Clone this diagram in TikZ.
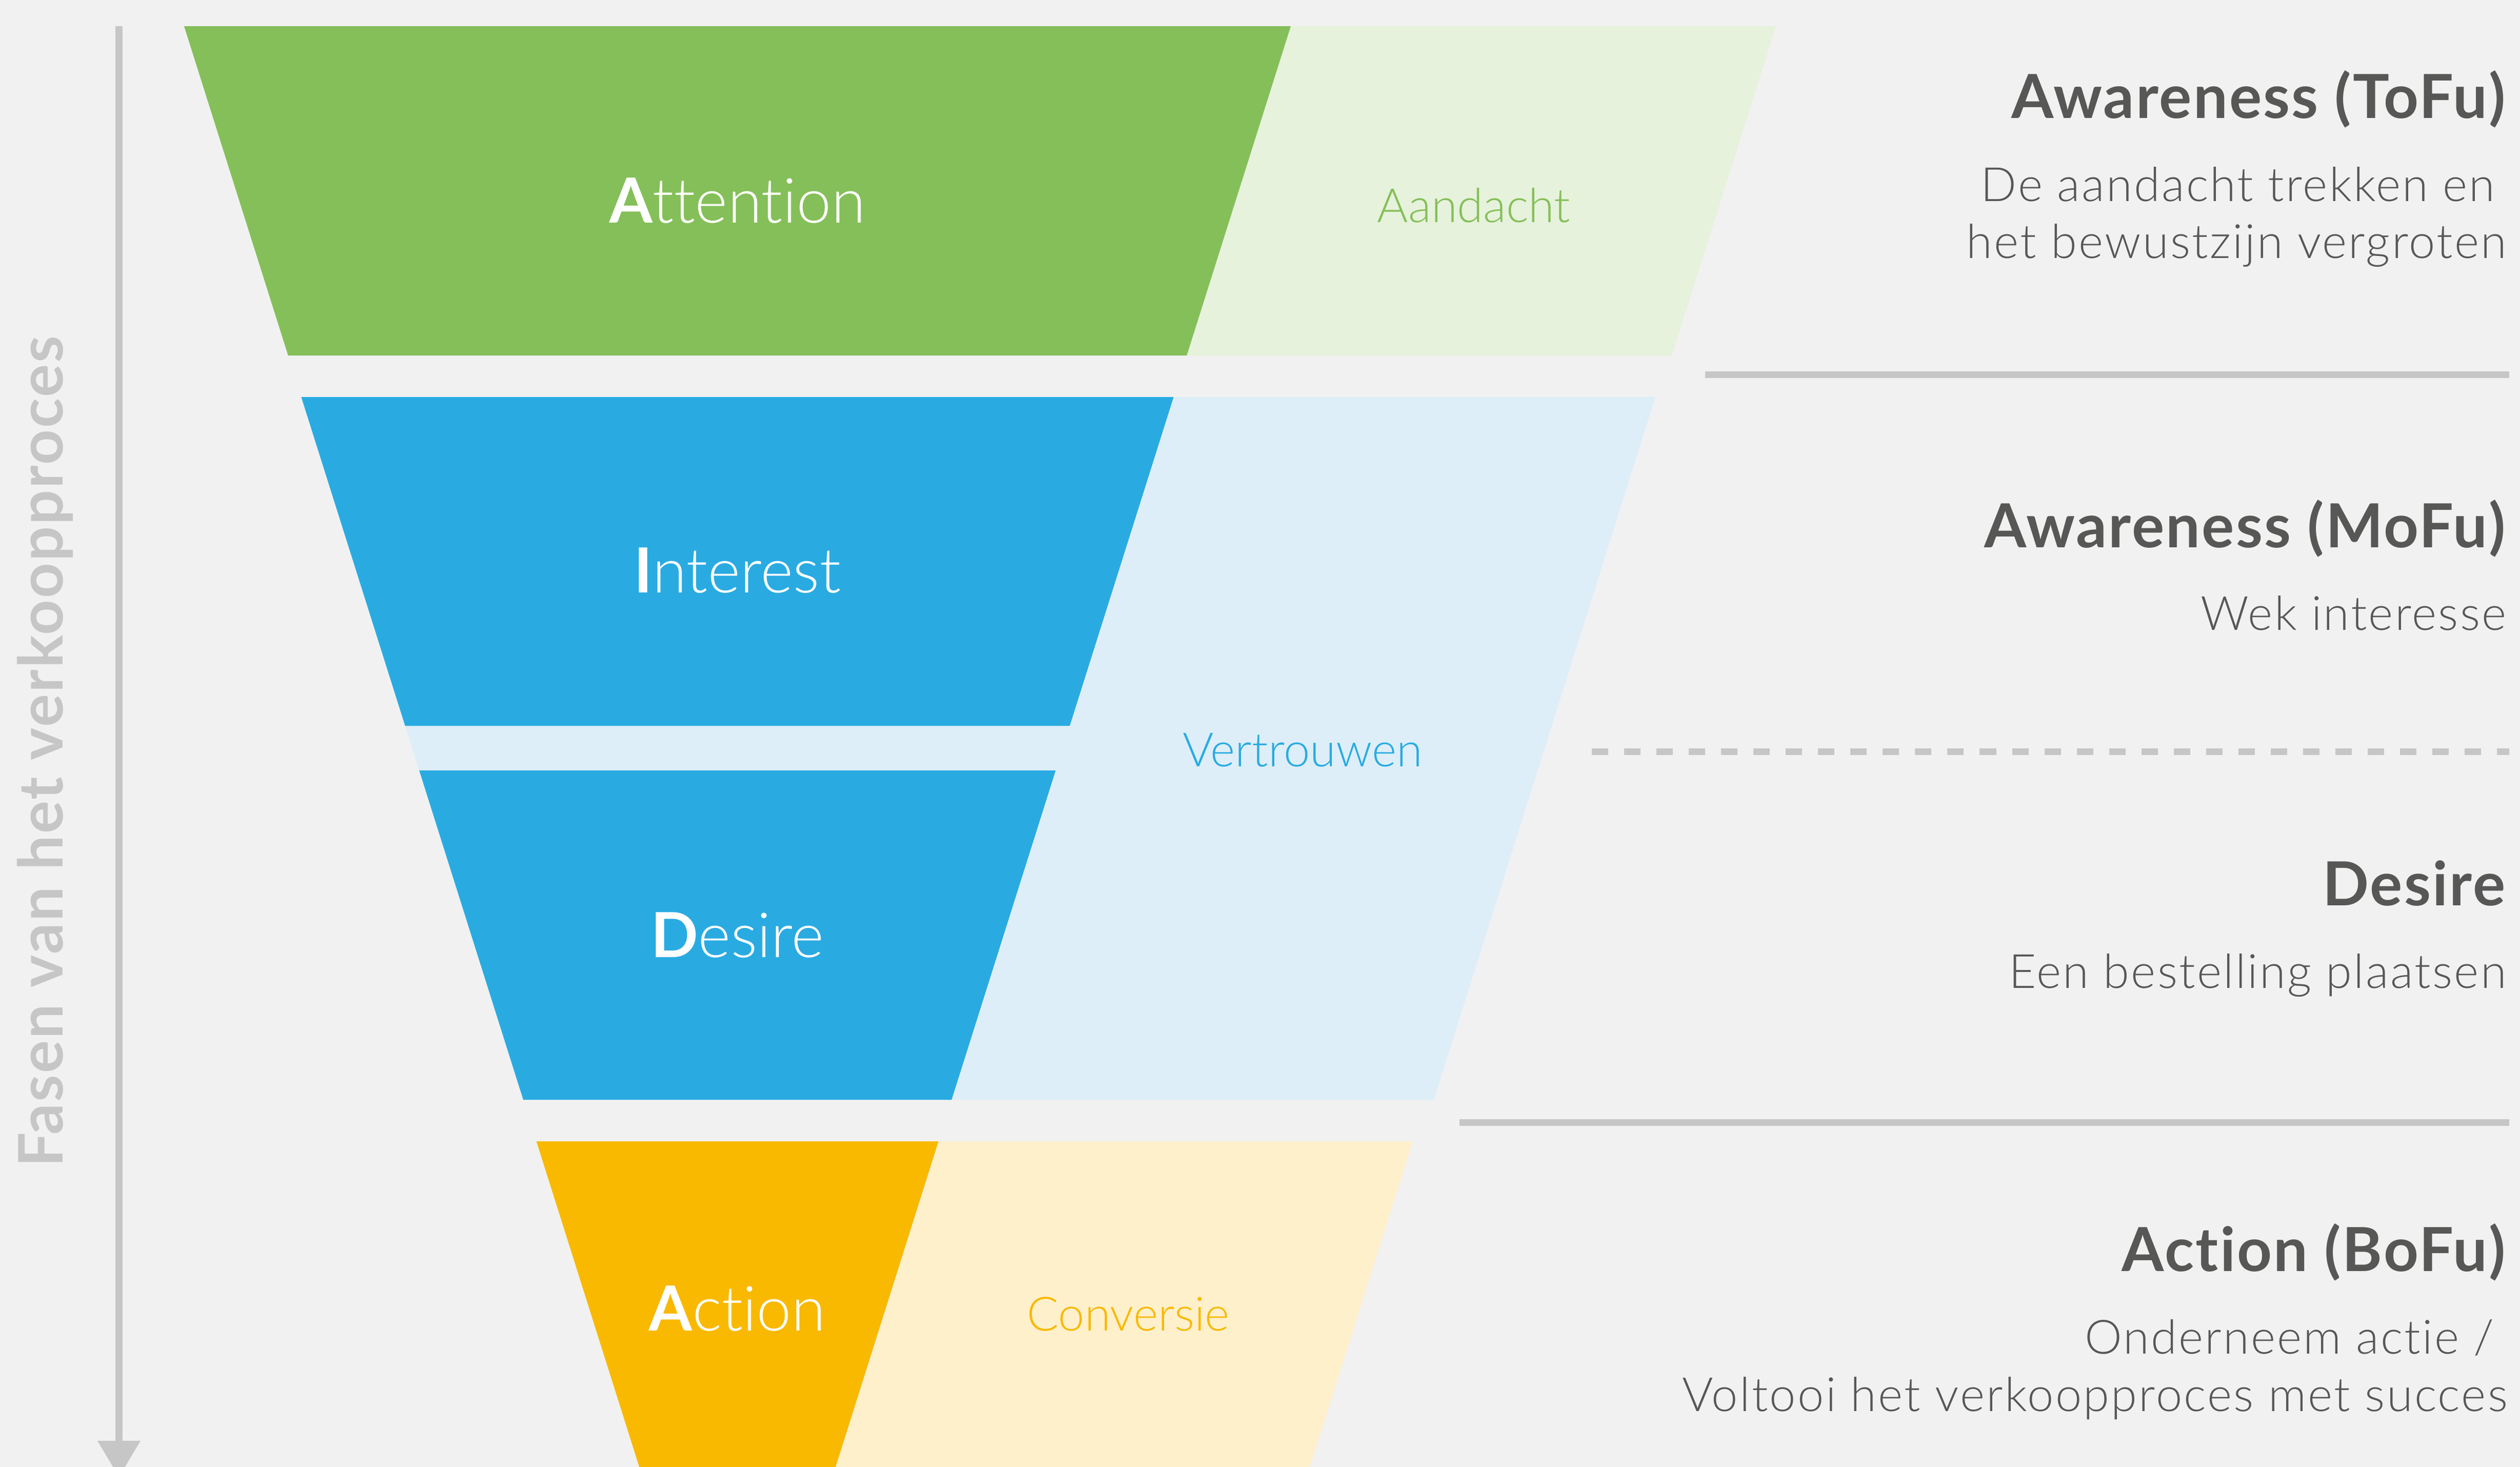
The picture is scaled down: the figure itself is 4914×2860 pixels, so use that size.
\documentclass[tikz,border=0pt]{standalone}
\usepackage{fontspec}
\setmainfont{Lato}[Ligatures=NoCommon]
\newfontfamily\lightfont{Lato Light}[Ligatures=NoCommon]
\newfontfamily\descfont{Lato Light}[Ligatures=NoCommon, LetterSpace=3.5]
\newfontfamily\headfont{Lato}[Ligatures=NoCommon, LetterSpace=2.6]
\usetikzlibrary{arrows.meta, positioning}
\definecolor{backgray}{RGB}{241,241,241}
\definecolor{linegray}{RGB}{198,198,198}
\definecolor{darktext}{RGB}{87,87,86}
\definecolor{funnelgreen}{RGB}{133,191,89}
\definecolor{lightgreen}{RGB}{230,242,219}
\definecolor{funnelblue}{RGB}{41,171,226}
\definecolor{lightblue}{RGB}{221,238,248}
\definecolor{funnelyellow}{RGB}{248,185,0}
\definecolor{lightyellow}{RGB}{255,240,204}
\newcommand{\edgex}[1]{359+0.316*(#1-51)} % left side of the funnel
\newcommand{\splitx}[1]{2517-0.316*(#1-51)} % border between the dark and the light part
\newcommand{\firstletter}[1]{{\normalfont\bfseries #1}}
\tikzset{
	stage/.style={font=\lightfont\fontsize{34.5}{40}\selectfont, text=white, inner sep=0pt, anchor=base}, % names in the dark part
	goal/.style={font=\lightfont\fontsize{26.2}{31.6}\selectfont, inner sep=0pt, anchor=base}, % names in the light part
	phase/.style={font=\headfont\bfseries\fontsize{33.7}{40}\selectfont, text=darktext, inner sep=0pt, anchor=base east}, % titles on the right
	explain/.style={font=\descfont\fontsize{26.2}{31.6}\selectfont, text=darktext, inner sep=0pt, anchor=base east}, % text under the titles
	sideways/.style={font=\headfont\bfseries\fontsize{34.1}{40}\selectfont, text=linegray, inner sep=0pt, rotate=90, anchor=base west},
	divider/.style={draw=linegray, line width=0.13cm},
	flowarrow/.style={draw=linegray, line width=0.14cm, -{Triangle[width=0.8cm, length=0.71cm]}},
}

\begin{document}
\begin{tikzpicture}[x=0.01cm, y=-0.01cm] % one unit is one pixel, y runs downwards
	\useasboundingbox (0,0) rectangle (4914,2860);
	\fill[backgray] (0,0) rectangle (4914,2860);
	\clip (0,0) rectangle (4914,2860);

	% attention
	\fill[lightgreen] ({\splitx{51}},51) -- (3463,51) -- (3260,693) -- ({\splitx{693}},693) -- cycle;
	\fill[funnelgreen] ({\edgex{51}},51) -- ({\splitx{51}},51) -- ({\splitx{693}},693) -- ({\edgex{693}},693) -- cycle;
	% interest and desire, one light part
	\fill[lightblue] ({\edgex{774}},774) -- (3228,774) -- (2796,2144) -- ({\edgex{2144}},2144) -- cycle;
	\fill[funnelblue] ({\edgex{774}},774) -- ({\splitx{774}},774) -- ({\splitx{1415}},1415) -- ({\edgex{1415}},1415) -- cycle;
	\fill[funnelblue] ({\edgex{1502}},1502) -- ({\splitx{1502}},1502) -- ({\splitx{2144}},2144) -- ({\edgex{2144}},2144) -- cycle;
	% action
	\fill[lightyellow] ({\splitx{2225}},2225) -- (2755,2225) -- (2548,2880) -- ({\splitx{2880}},2880) -- cycle;
	\fill[funnelyellow] ({\edgex{2225}},2225) -- ({\splitx{2225}},2225) -- ({\splitx{2880}},2880) -- ({\edgex{2880}},2880) -- cycle;

	\node[stage] (attention) at (1438,434) {\firstletter{A}ttention};
	\node[stage] (interest) at (1438,1155) {\firstletter{I}nterest};
	\node[stage] (desire) at (1438,1866) {\firstletter{D}esire};
	\node[stage] (action) at (1438,2594) {\firstletter{A}ction};
	\node[goal, text=funnelgreen] (aandacht) at (2874,433) {Aandacht};
	\node[goal, text=funnelblue] (vertrouwen) at (2540,1494) {Vertrouwen};
	\node[goal, text=funnelyellow] (conversie) at (2200,2594) {Conversie};

	% arrow on the left
	\coordinate (flowtop) at (232,51);
	\coordinate (flowend) at (232,2880);
	\draw[flowarrow] (flowtop) -- (flowend);
	\node[sideways] (fasen) at (122,2276) {Fasen van het verkoopproces};

	% right column
	\node[phase] (tofu) at (4886,230) {Awareness (ToFu)};
	\node[explain] (tofutext) at (4866,392) {De aandacht trekken en};
	\node[explain] (tofutext2) at (4888,503) {het bewustzijn vergroten};
	\draw[divider] (3325,730) -- (4893,730);
	\node[phase] (mofu) at (4886,1067) {Awareness (MoFu)};
	\node[explain] (mofutext) at (4888,1228) {Wek interesse};
	\draw[divider, dash pattern=on 0.32cm off 0.31cm] (3104,1465) -- (4893,1465);
	\node[phase] (desirephase) at (4886,1765) {Desire};
	\node[explain] (desiretext) at (4888,1926) {Een bestelling plaatsen};
	\draw[divider] (2846,2188) -- (4893,2188);
	\node[phase] (bofu) at (4886,2478) {Action (BoFu)};
	\node[explain] (bofutext) at (4864,2639) {Onderneem actie /};
	\node[explain] (bofutext2) at (4890,2751) {Voltooi het verkoopproces met succes};
\end{tikzpicture}
\end{document}
